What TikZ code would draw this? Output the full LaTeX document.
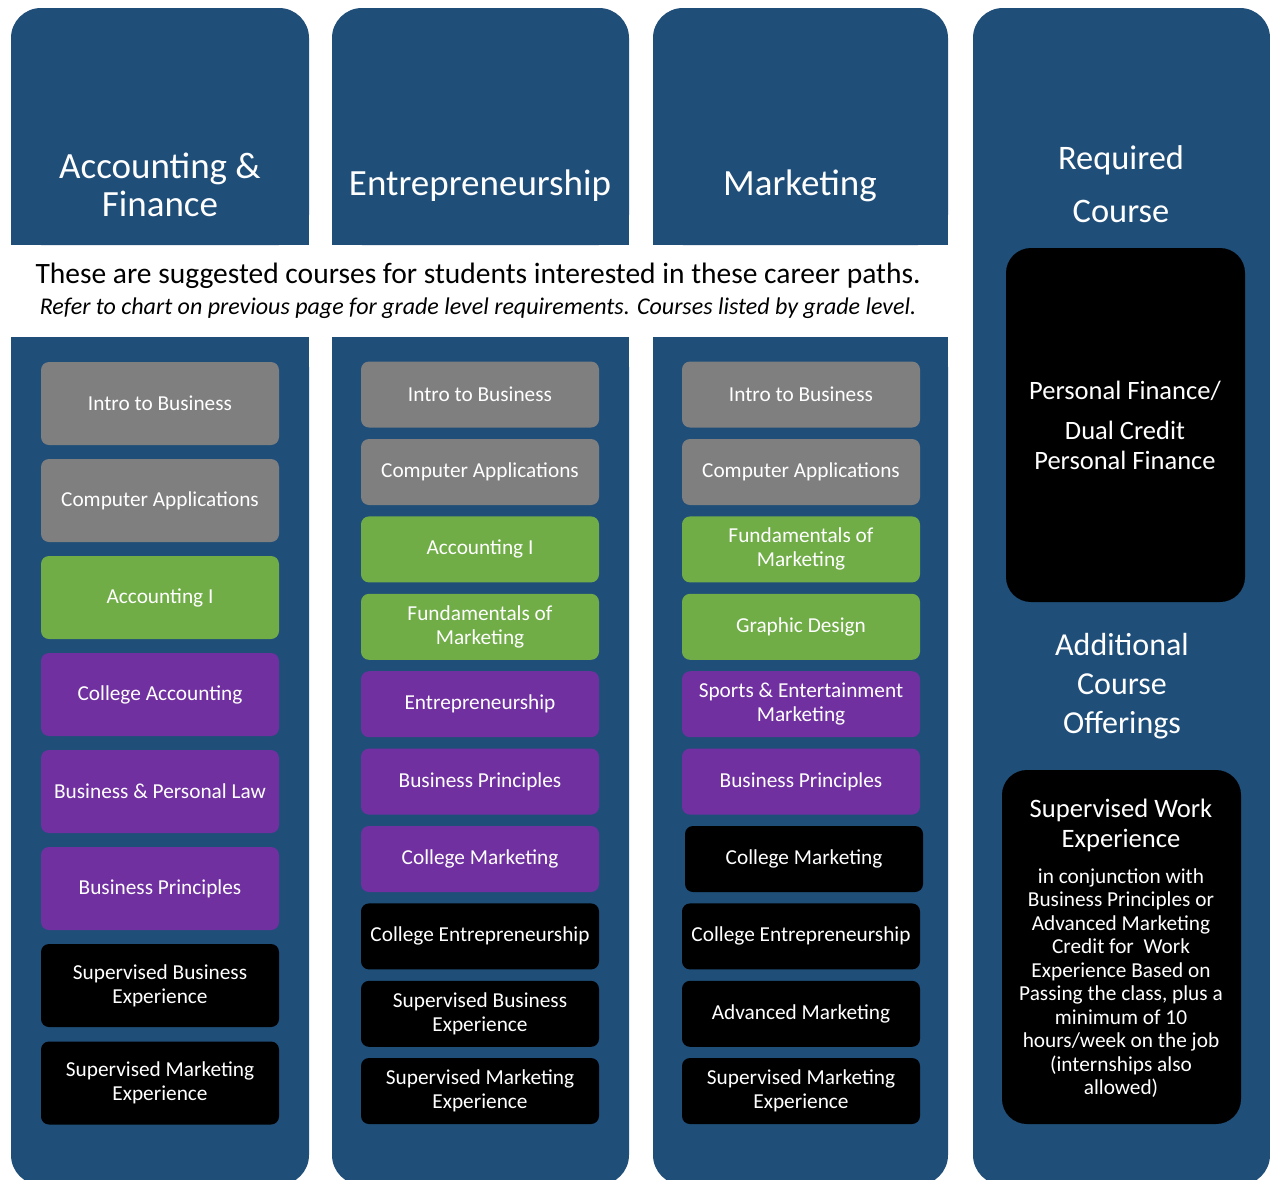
\documentclass[tikz,border=0pt]{standalone}
\usepackage{fontspec}
\setmainfont{Carlito}
\definecolor{colblue}{HTML}{1F4E79}
\definecolor{cgray}{HTML}{7F7F7F}
\definecolor{cgreen}{HTML}{70AD47}
\definecolor{cpurple}{HTML}{7030A0}
\begin{document}
\begin{tikzpicture}[x=1pt,y=-1pt,
  course/.style={rounded corners=8pt, minimum width=238pt, text=white, align=center, inner sep=0pt,
    font=\fontsize{21.3}{24}\selectfont},
  tallbox/.style={course, minimum height=83pt},
  shortbox/.style={course, minimum height=66pt},
  graybox/.style={fill=cgray},
  greenbox/.style={fill=cgreen},
  purplebox/.style={fill=cpurple},
  blackbox/.style={fill=black},
  headtext/.style={text=white, align=center, inner sep=0pt, font=\fontsize{37}{38}\selectfont},
  bigblack/.style={fill=black, rounded corners=25pt, minimum width=239pt, minimum height=354pt, inner sep=0pt},
]
\useasboundingbox (0,0) rectangle (1270,1179);
\fill[white] (0,0) rectangle (1270,1179);

% column backgrounds
\foreach \xa/\xb in {11/309, 332/629, 653/948}{
  \fill[colblue, rounded corners=30pt] (\xa,8) rectangle (\xb,245);
  \fill[colblue] (\xa,150) rectangle (\xb,245);
  \fill[colblue, rounded corners=30pt] (\xa,337) rectangle (\xb,1185);
  \fill[colblue] (\xa,337) rectangle (\xb,450);
}
\fill[colblue, rounded corners=30pt] (973,8) rectangle (1270,1185);

% headers
\node[headtext] (hAF) at (160,185) {Accounting \&\\Finance};
\node[headtext] (hEN) at (480,186) {Entrepreneurship};
\node[headtext] (hMK) at (800,186) {Marketing};
\node[headtext, font=\fontsize{34.4}{53}\selectfont] (hRQ) at (1121,184) {Required\\Course};

% band text
\node[inner sep=0pt, font=\fontsize{29.5}{32}\selectfont] (band1) at (478,276)
  {These are suggested courses for students interested in these career paths.};
\node[inner sep=0pt, font=\fontsize{24}{26}\selectfont\itshape] (band2) at (478,308)
  {Refer to chart on previous page for grade level requirements. Courses listed by grade level.};

% column 1
\node[tallbox, graybox]   (a1) at (160,403.5) {Intro to Business};
\node[tallbox, graybox]   (a2) at (160,500.5) {Computer Applications};
\node[tallbox, greenbox]  (a3) at (160,597.5) {Accounting I};
\node[tallbox, purplebox] (a4) at (160,694.5) {College Accounting};
\node[tallbox, purplebox] (a5) at (160,791.5) {Business \& Personal Law};
\node[tallbox, purplebox] (a6) at (160,888.5) {Business Principles};
\node[tallbox, blackbox]  (a7) at (160,985.5) {Supervised Business\\Experience};
\node[tallbox, blackbox]  (a8) at (160,1083) {Supervised Marketing\\Experience};

% column 2
\node[shortbox, graybox]   (b1) at (480,394.5) {Intro to Business};
\node[shortbox, graybox]   (b2) at (480,472) {Computer Applications};
\node[shortbox, greenbox]  (b3) at (480,549.4) {Accounting I};
\node[shortbox, greenbox]  (b4) at (480,626.8) {Fundamentals of\\Marketing};
\node[shortbox, purplebox] (b5) at (480,704.2) {Entrepreneurship};
\node[shortbox, purplebox] (b6) at (480,781.6) {Business Principles};
\node[shortbox, purplebox] (b7) at (480,859) {College Marketing};
\node[shortbox, blackbox]  (b8) at (480,936.4) {College Entrepreneurship};
\node[shortbox, blackbox]  (b9) at (480,1013.8) {Supervised Business\\Experience};
\node[shortbox, blackbox]  (b10) at (480,1091) {Supervised Marketing\\Experience};

% column 3
\node[shortbox, graybox]   (c1) at (801,394.5) {Intro to Business};
\node[shortbox, graybox]   (c2) at (801,472) {Computer Applications};
\node[shortbox, greenbox]  (c3) at (801,549.4) {Fundamentals of\\Marketing};
\node[shortbox, greenbox]  (c4) at (801,626.8) {Graphic Design};
\node[shortbox, purplebox] (c5) at (801,704.2) {Sports \& Entertainment\\Marketing};
\node[shortbox, purplebox] (c6) at (801,781.6) {Business Principles};
\node[shortbox, blackbox]  (c7) at (804,859) {College Marketing};
\node[shortbox, blackbox]  (c8) at (801,936.4) {College Entrepreneurship};
\node[shortbox, blackbox]  (c9) at (801,1013.8) {Advanced Marketing};
\node[shortbox, blackbox]  (c10) at (801,1091) {Supervised Marketing\\Experience};

% column 4
\node[bigblack] (pfbox) at (1125.5,425) {};
\node[text=white, align=center, inner sep=0pt, font=\fontsize{26.5}{30}\selectfont] (pftext) at (1125,425)
  {Personal Finance/\\[10pt]Dual Credit\\Personal Finance};
\node[headtext, font=\fontsize{32}{39}\selectfont] (hAD) at (1122,686) {Additional\\Course\\Offerings};
\node[bigblack] (swbox) at (1121.5,947) {};
\node[text=white, align=center, inner sep=0pt, font=\fontsize{26.6}{30}\selectfont] (swtitle) at (1121,825)
  {Supervised Work\\Experience};
\node[text=white, align=center, inner sep=0pt, font=\fontsize{21.3}{23.5}\selectfont] (swbody) at (1121,983)
  {in conjunction with\\Business Principles or\\Advanced Marketing\\Credit for\ \ Work\\Experience Based on\\Passing the class, plus a\\minimum of 10\\hours/week on the job\\(internships also\\allowed)};
\end{tikzpicture}
\end{document}
